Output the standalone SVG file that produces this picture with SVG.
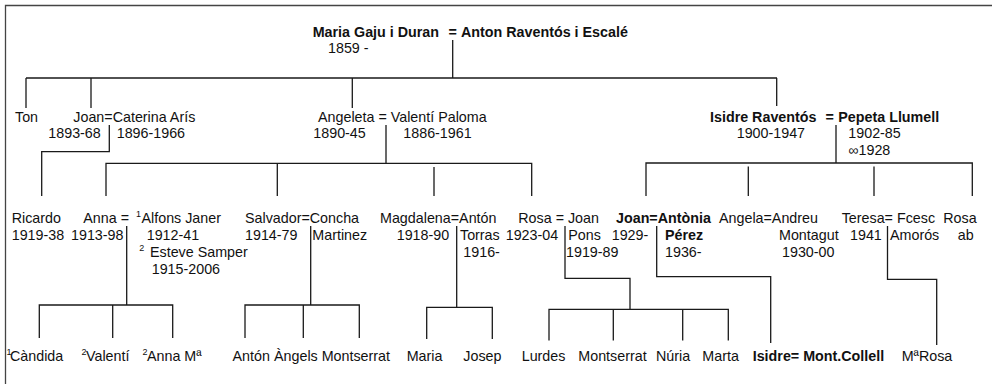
<svg xmlns="http://www.w3.org/2000/svg" width="992" height="384" viewBox="0 0 992 384">
<style>
text{font-family:"Liberation Sans",Arial,Helvetica,sans-serif;font-size:14.3px;fill:#111}
.b{font-weight:bold}
.s{font-size:9px}
.ln{fill:none;stroke:#1a1a1a;stroke-width:1.3}
.frame{fill:none;stroke:#444;stroke-width:1.3}
</style>
<rect width="992" height="384" fill="#fff"/>
<path class="frame" d="M5.5,384 V5.5 H992"/>
<g id="connectors" class="ln">
  <path d="M452.7,40 V78 M26,78 H777 M26,78 V108 M91,78 V108 M352.3,78 V108 M776.7,78 V106"/>
  <path d="M109.3,125 V151.7 H41.7 V196"/>
  <path d="M386,125 V163.3 M106,196 V163.3 H531.7 V196 M277.3,163.3 V196 M434,167 V196"/>
  <path d="M836,125 V163 M646,196 V163 H972.3 V196 M748.3,166.5 V196 M874,166.5 V196"/>
  <path d="M126.7,226 V305 M39.3,338 V305 H172.7 V338 M112.7,305 V338"/>
  <path d="M310.7,226 V305 M245,338 V305 H359.3 V338 M303.3,305 V338"/>
  <path d="M456.7,226 V307.3 M426.7,339 V307.3 H492.3 V339"/>
  <path d="M565,226 V278.3 H630 V309.3 M549,340.5 V309.3 H728.3 V340.5 M613.3,309.3 V340.5 M682.7,309.3 V340.5"/>
  <path d="M656.7,226 V276.7 H770.7 V343"/>
  <path d="M887.5,226 V279.3 H936.7 V345"/>
</g>
<g id="n-root">
  <text class="b" x="312.7" y="37">Maria Gaju i Duran</text>
  <text class="b" x="448.5" y="37">=</text>
  <text class="b" x="461" y="37">Anton Raventós i Escalé</text>
  <text x="328" y="53">1859 -</text>
</g>
<g id="n-ton"><text x="15" y="121.5">Ton</text></g>
<g id="n-joan-caterina">
  <text x="73.3" y="121.5">Joan=Caterina Arís</text>
  <text x="48.3" y="137.5">1893-68</text>
  <text x="116.7" y="137.5">1896-1966</text>
</g>
<g id="n-angeleta-valenti">
  <text x="318" y="121.5">Angeleta = Valentí Paloma</text>
  <text x="313.3" y="137.5">1890-45</text>
  <text x="403.3" y="137.5">1886-1961</text>
</g>
<g id="n-isidre-pepeta">
  <text class="b" x="710" y="121.5">Isidre Raventós</text>
  <text class="b" x="825.5" y="121.5">=</text>
  <text class="b" x="838.3" y="121.5">Pepeta Llumell</text>
  <text x="736.7" y="137.5">1900-1947</text>
  <text x="848.3" y="137.5">1902-85</text>
  <text x="848.3" y="155">∞1928</text>
</g>
<g id="n-ricardo">
  <text x="11.7" y="223">Ricardo</text>
  <text x="11.7" y="240">1919-38</text>
</g>
<g id="n-anna-alfons-esteve">
  <text x="83.3" y="223">Anna =</text>
  <text class="s" x="136" y="217">1</text>
  <text x="141.5" y="223">Alfons Janer</text>
  <text x="71" y="240">1913-98</text>
  <text x="146.7" y="240">1912-41</text>
  <text class="s" x="139.3" y="251">2</text>
  <text x="150" y="256.5">Esteve Samper</text>
  <text x="151.7" y="273.5">1915-2006</text>
</g>
<g id="n-salvador-concha">
  <text x="245" y="223">Salvador=Concha</text>
  <text x="245" y="240">1914-79</text>
  <text x="312.3" y="240">Martinez</text>
</g>
<g id="n-magdalena-anton">
  <text x="380" y="223">Magdalena=Antón</text>
  <text x="396.7" y="240">1918-90</text>
  <text x="460" y="240">Torras</text>
  <text x="463.3" y="257">1916-</text>
</g>
<g id="n-rosa-joan">
  <text x="518.3" y="223">Rosa = Joan</text>
  <text x="505.7" y="240">1923-04</text>
  <text x="568.3" y="240">Pons</text>
  <text x="566" y="257">1919-89</text>
</g>
<g id="n-joan-antonia">
  <text class="b" x="616" y="223">Joan=Antònia</text>
  <text x="611.7" y="240">1929-</text>
  <text class="b" x="665" y="240">Pérez</text>
  <text x="665" y="257">1936-</text>
</g>
<g id="n-angela-andreu">
  <text x="719" y="223">Angela=Andreu</text>
  <text x="779" y="240">Montagut</text>
  <text x="782" y="257">1930-00</text>
</g>
<g id="n-teresa-fcesc">
  <text x="841.7" y="223">Teresa= Fcesc</text>
  <text x="850" y="240">1941</text>
  <text x="890" y="240">Amorós</text>
</g>
<g id="n-rosa-ab">
  <text x="943.3" y="223">Rosa</text>
  <text x="957.7" y="240">ab</text>
</g>
<g id="n-candida"><text class="s" x="6.5" y="355">1</text><text x="10" y="361">Càndida</text></g>
<g id="n-valenti"><text class="s" x="81.5" y="355">2</text><text x="86" y="361">Valentí</text></g>
<g id="n-annama"><text class="s" x="142.5" y="355">2</text><text x="147" y="361">Anna Mª</text></g>
<g id="n-anton"><text x="232.5" y="361">Antón</text></g>
<g id="n-angels"><text x="274" y="361">Àngels</text></g>
<g id="n-montserrat1"><text x="321.7" y="361">Montserrat</text></g>
<g id="n-maria"><text x="406.7" y="361">Maria</text></g>
<g id="n-josep"><text x="463.3" y="361">Josep</text></g>
<g id="n-lurdes"><text x="521.7" y="361">Lurdes</text></g>
<g id="n-montserrat2"><text x="578.3" y="361">Montserrat</text></g>
<g id="n-nuria"><text x="656" y="361">Núria</text></g>
<g id="n-marta"><text x="702.3" y="361">Marta</text></g>
<g id="n-isidre-mont"><text class="b" x="752.7" y="361">Isidre= Mont.Collell</text></g>
<g id="n-marosa"><text x="901.7" y="361">MªRosa</text></g>
</svg>
